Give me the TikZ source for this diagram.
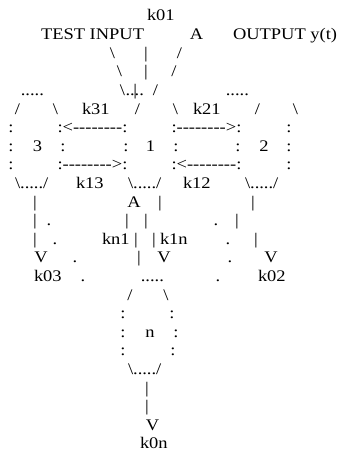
\documentclass[tikz,border=0pt]{standalone}
\usepackage{fontspec}
\setmainfont{Liberation Serif}[FakeStretch=1.14]
\newcommand\bs{\textbackslash}
\newcommand\br{\textbar}
\newcommand\hy{\hbox{-}}
\newcommand\dd{\hy\hy\hy\hy\hy\hy\hy\hy}
\tikzset{
  ch/.style={inner sep=0pt, outer sep=0pt, anchor=base,
             font=\fontsize{16.2}{18.6}\selectfont},
  str/.style={ch, anchor=base west},
}
\begin{document}
\begin{tikzpicture}[x=1pt, y=-18.6pt]
\useasboundingbox (0,-0.129) rectangle (347,24.172);
% line 1-2: header
\node[str] (k01) at (147,1) {k01};
\node[str] (test) at (41,2) {TEST INPUT};
\node[ch] (inA) at (196.5,2) {A};
\node[str] (out) at (233,2) {OUTPUT y(t)};
% lines 3-5: inputs into node 1
\node[ch] (a3) at (112.5,3) {\bs};
\node[ch] (b3) at (146,3) {\br};
\node[ch] (c3) at (179.5,3) {/};
\node[ch] (a4) at (119.5,4) {\bs};
\node[ch] (b4) at (146,4) {\br};
\node[ch] (c4) at (174,4) {/};
\node[str] (top3) at (20.8,5) {.....};
\node[ch] (a5) at (122.5,5) {\bs};
\node[str] (top1) at (125.5,5) {....};
\node[ch] (b5) at (135.3,5) {\br};
\node[ch] (c5) at (155.5,5) {/};
\node[str] (top2) at (225.8,5) {.....};
% line 6
\node[ch] (l3ul) at (17.5,6) {/};
\node[ch] (l3ur) at (55.5,6) {\bs};
\node[str] (k31) at (82,6) {k31};
\node[ch] (l1ul) at (137.5,6) {/};
\node[ch] (l1ur) at (175.5,6) {\bs};
\node[str] (k21) at (193,6) {k21};
\node[ch] (l2ul) at (257.5,6) {/};
\node[ch] (l2ur) at (295.5,6) {\bs};
% line 7
\node[ch] (s3a) at (11,7) {:};
\node[str] (ar31) at (57.5,7) {:<\dd:};
\node[str] (ar21) at (171.5,7) {:\dd>:};
\node[ch] (s2a) at (289,7) {:};
% line 8
\node[ch] (s3b) at (11,8) {:};
\node[ch] (n3) at (37.5,8) {3};
\node[ch] (s3c) at (63,8) {:};
\node[ch] (s1a) at (126,8) {:};
\node[ch] (n1) at (150.5,8) {1};
\node[ch] (s1b) at (176,8) {:};
\node[ch] (s2b) at (238,8) {:};
\node[ch] (n2) at (264,8) {2};
\node[ch] (s2c) at (289,8) {:};
% line 9
\node[ch] (s3d) at (11,9) {:};
\node[str] (ar13) at (57.5,9) {:\dd>:};
\node[str] (ar12) at (171.5,9) {:<\dd:};
\node[ch] (s2d) at (289,9) {:};
% line 10
\node[str] (bot3) at (15,10) {\bs...../};
\node[str] (k13) at (76,10) {k13};
\node[str] (bot1) at (128,10) {\bs...../};
\node[str] (k12) at (183,10) {k12};
\node[str] (bot2) at (245,10) {\bs...../};
% line 11
\node[ch] (v3a) at (35,11) {\br};
\node[ch] (up1) at (134,11) {A};
\node[ch] (v1a) at (160,11) {\br};
\node[ch] (v2a) at (253,11) {\br};
% line 12
\node[ch] (v3b) at (35,12) {\br};
\node[ch] (d3a) at (49,12) {.};
\node[ch] (vna) at (127,12) {\br};
\node[ch] (v1b) at (146,12) {\br};
\node[ch] (d2a) at (216,12) {.};
\node[ch] (v2b) at (237,12) {\br};
% line 13
\node[ch] (v3c) at (35,13) {\br};
\node[ch] (d3b) at (55,13) {.};
\node[str] (kn1) at (102,13) {kn1};
\node[ch] (vnb) at (136,13) {\br};
\node[ch] (v1c) at (154,13) {\br};
\node[str] (k1n) at (160,13) {k1n};
\node[ch] (d2b) at (228,13) {.};
\node[ch] (v2c) at (256,13) {\br};
% line 14
\node[ch] (v3d) at (41,14) {V};
\node[ch] (d3c) at (75,14) {.};
\node[ch] (vnc) at (139,14) {\br};
\node[ch] (v1d) at (164,14) {V};
\node[ch] (d2c) at (230,14) {.};
\node[ch] (v2d) at (271,14) {V};
% line 15
\node[str] (k03) at (34,15) {k03};
\node[ch] (d3d) at (83,15) {.};
\node[str] (topn) at (140.8,15) {.....};
\node[ch] (d2d) at (218,15) {.};
\node[str] (k02) at (258,15) {k02};
% lines 16-20: node n
\node[ch] (lnul) at (130,16) {/};
\node[ch] (lnur) at (166,16) {\bs};
\node[ch] (sna) at (123,17) {:};
\node[ch] (snb) at (172,17) {:};
\node[ch] (snc) at (123,18) {:};
\node[ch] (nn) at (150,18) {n};
\node[ch] (snd) at (176,18) {:};
\node[ch] (sne) at (123,19) {:};
\node[ch] (snf) at (173,19) {:};
\node[str] (botn) at (128,20) {\bs...../};
% lines 21-24: output of n
\node[ch] (vn1) at (147,21) {\br};
\node[ch] (vn2) at (147,22) {\br};
\node[ch] (vn3) at (152.5,23) {V};
\node[str] (k0n) at (140,24) {k0n};
\end{tikzpicture}
\end{document}
